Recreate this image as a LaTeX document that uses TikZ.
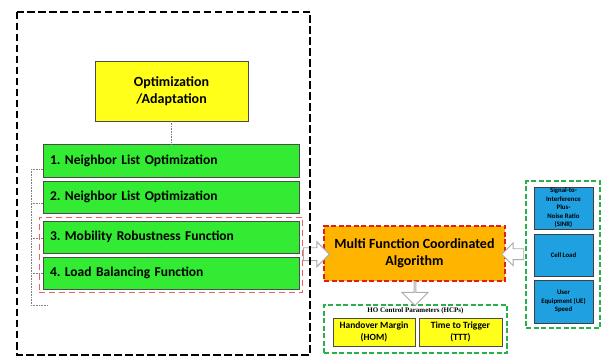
\documentclass[tikz,border=0pt]{standalone}
\usepackage{fontspec}
\setmainfont{Carlito}
\newfontfamily\hcpfont{Liberation Serif}
\usetikzlibrary{shapes.arrows,fit,calc}
\frenchspacing

\definecolor{optyellow}{RGB}{255,255,25}
\definecolor{funcgreen}{RGB}{50,235,50}
\definecolor{algorange}{RGB}{255,180,0}
\definecolor{kpiblue}{RGB}{30,160,225}
\definecolor{framegreen}{RGB}{40,176,74}
\definecolor{framered}{RGB}{225,30,30}
\definecolor{lightred}{RGB}{238,95,105}

\tikzset{
  optbox/.style={draw=black!70, fill=optyellow, minimum width=153pt, minimum height=60pt, align=center, font=\bfseries\fontsize{14}{17}\selectfont},
  funcbox/.style={draw=black!70, fill=funcgreen, minimum width=256pt, minimum height=32.5pt, text width=242pt, inner xsep=7pt, align=left, font=\bfseries\fontsize{13.5}{15}\selectfont},
  algbox/.style={draw=framered, fill=algorange, line width=1.8pt, dash pattern=on 5pt off 2.5pt, minimum width=181pt, minimum height=55pt, align=center, font=\bfseries\fontsize{14}{17}\selectfont},
  hcpbox/.style={draw=black!70, fill=optyellow, minimum height=28pt, align=center, font=\bfseries\fontsize{9.5}{12}\selectfont},
  kpibox/.style={draw=black!75, fill=kpiblue, minimum width=59pt, inner sep=1pt, align=center, font=\bfseries\fontsize{6.8}{8.5}\selectfont},
  greenframe/.style={draw=framegreen, line width=2pt, dash pattern=on 5pt off 2.5pt},
  redframe/.style={draw=lightred, line width=1pt, dash pattern=on 6pt off 4pt},
  outerframe/.style={draw=black, line width=2.2pt, dash pattern=on 7.5pt off 3.5pt},
  guide/.style={draw=gray, densely dotted, line width=0.6pt},
  hollowarrow/.style={single arrow, draw=gray!65, fill=white, line width=0.9pt, inner sep=0pt, single arrow head extend=6pt}
}

\begin{document}
\begin{tikzpicture}[x=1pt,y=-1pt]
  \useasboundingbox (0,0) rectangle (603,358);
  % left block: SON functions
  \node[optbox] (opt) at (171.5,91) {Optimization\\/Adaptation};
  \node[funcbox] (f1) at (171,160.5) {1. Neighbor List Optimization};
  \node[funcbox] (f2) at (171,197) {2. Neighbor List Optimization};
  \node[funcbox] (f3) at (171,237) {3. Mobility Robustness Function};
  \node[funcbox] (f4) at (171,273) {4. Load Balancing Function};
  \node[redframe, fit=(f3)(f4), inner sep=3.5pt] (mro) {};
  \draw[guide] (opt.south) -- (opt.south |- f1.north);
  \coordinate (rtop) at (31,169);
  \coordinate (rbot) at (31,305);
  \coordinate (rend) at (48,305);
  \draw[guide] (rtop) -- (rbot) -- (rend);
  \foreach \n/\y in {f1/169,f2/203,f3/238,f4/273}
    \draw[guide] (31,\y) -- (\n.west |- 0,\y);
  % algorithm
  \node[algbox] (mfca) at (414.5,253.5) {Multi Function Coordinated\\Algorithm};
  % HO control parameters
  \node[greenframe, minimum width=183pt, minimum height=48pt] (hcp) at (415.5,329) {};
  \node[font=\hcpfont\bfseries\fontsize{7}{8}\selectfont, inner sep=0pt] (hcptitle) at ($(hcp.north)+(0,7)$) {HO Control Parameters (HCPs)};
  \node[hcpbox, minimum width=82pt] (hom) at (374,332) {Handover Margin\\(HOM)};
  \node[hcpbox, minimum width=83pt] (ttt) at (460.5,332) {Time to Trigger\\(TTT)};
  % inputs
  \node[greenframe, minimum width=74pt, minimum height=147pt] (inputs) at (563,255) {};
  \node[kpibox, minimum height=42pt] (sinr) at (563.5,208) {Signal-to-\\Interference\\Plus-\\Noise Ratio\\(SINR)};
  \node[kpibox, minimum height=42pt] (load) at (563.5,255) {Cell Load};
  \node[kpibox, minimum height=43pt] (ue) at (563.5,301.5) {User\\Equipment (UE)\\Speed};
  % block arrows
  \node[hollowarrow, minimum height=26pt, minimum width=24pt, inner ysep=6pt] (a1) at ($(mro.east)!0.5!(mfca.west)$) {};
  \node[hollowarrow, minimum height=22pt, minimum width=20pt, inner ysep=5pt, shape border rotate=180] (a2) at ($(inputs.west)!0.5!(mfca.east)$) {};
  \node[hollowarrow, minimum height=24pt, minimum width=26pt, inner ysep=7pt, shape border rotate=270] (a3) at ($(mfca.south)!0.5!(hcp.north)$) {};
  \draw[outerframe] (17,12) rectangle (310,355);
\end{tikzpicture}
\end{document}
